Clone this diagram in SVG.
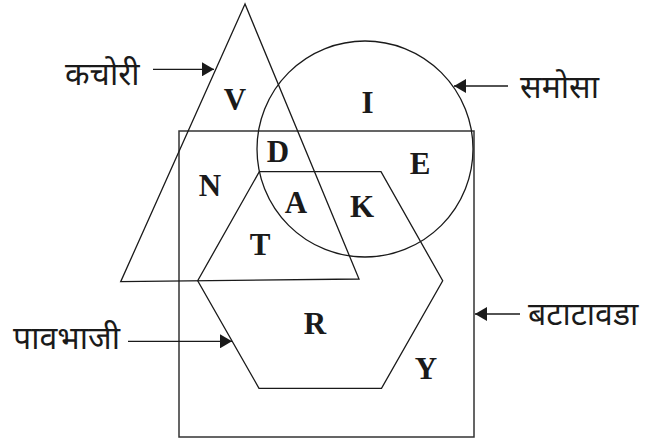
<svg xmlns="http://www.w3.org/2000/svg" width="646" height="439" viewBox="0 0 646 439">
<defs>
<style>
.shape{fill:none;stroke:#1a1a1a;stroke-width:1.3}
.rect{fill:none;stroke:#333;stroke-width:1.5}
.lbl{font-family:"Liberation Serif","Times New Roman",serif;font-weight:bold;font-size:31px;fill:#1a1a1a;text-anchor:middle}
.name{font-family:"Noto Sans Devanagari","Lohit Devanagari","Noto Sans",sans-serif;font-size:32px;fill:#1a1a1a}
.conn{stroke:#1a1a1a;stroke-width:1.3;fill:none}
</style>
<marker id="ah" viewBox="0 0 12 14" refX="12" refY="7" markerWidth="12" markerHeight="14" markerUnits="userSpaceOnUse" orient="auto">
<path d="M0,0 L12,7 L0,14 Z" fill="#1a1a1a"/>
</marker>
</defs>
<rect width="646" height="439" fill="#fff"/>
<g id="batatavada">
<rect class="rect" x="179" y="131" width="295" height="306"/>
</g>
<g id="kachori">
<polygon class="shape" points="245,4 120.7,281.7 359,279"/>
</g>
<g id="samosa">
<circle class="shape" cx="365" cy="149" r="108"/>
</g>
<g id="pavbhaji">
<polygon class="shape" points="259.3,171.7 381,171.7 442.7,280.7 381.5,388.3 259,388.3 197.7,280.7"/>
</g>
<g id="region-labels">
<text class="lbl" x="235" y="110">V</text>
<text class="lbl" x="367.5" y="112.5">I</text>
<text class="lbl" x="278" y="161.5">D</text>
<text class="lbl" x="420" y="174">E</text>
<text class="lbl" x="210" y="196">N</text>
<text class="lbl" x="296" y="212.5">A</text>
<text class="lbl" x="362" y="216.5">K</text>
<text class="lbl" x="260" y="255">T</text>
<text class="lbl" x="315" y="334">R</text>
<text class="lbl" x="426" y="379">Y</text>
</g>
<g id="name-labels">
<text class="name" x="65" y="85">कचोरी</text>
<text class="name" x="520" y="98">समोसा</text>
<text class="name" x="13" y="349">पावभाजी</text>
<text class="name" x="528" y="325">बटाटावडा</text>
</g>
<g id="connectors">
<line class="conn" x1="153" y1="69.3" x2="214" y2="69.3" marker-end="url(#ah)"/>
<line class="conn" x1="508" y1="86" x2="454" y2="86" marker-end="url(#ah)"/>
<line class="conn" x1="128" y1="341.3" x2="232" y2="341.3" marker-end="url(#ah)"/>
<line class="conn" x1="520" y1="314" x2="475" y2="314" marker-end="url(#ah)"/>
</g>
</svg>
